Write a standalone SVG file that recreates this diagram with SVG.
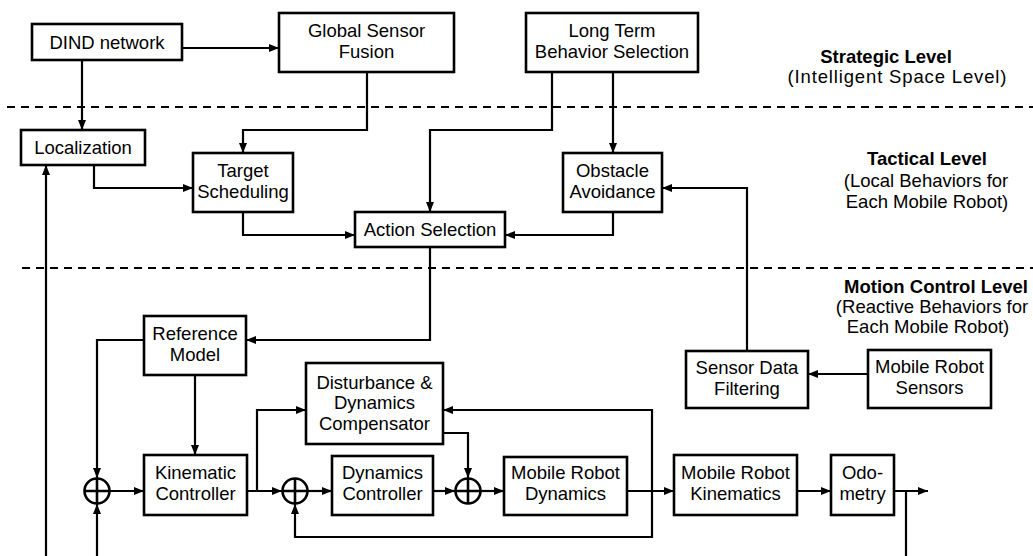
<svg xmlns="http://www.w3.org/2000/svg" width="1033" height="556" viewBox="0 0 1033 556">
  <style>
    .box { fill: #fff; stroke: #000; stroke-width: 2.6; }
    .wire { fill: none; stroke: #000; stroke-width: 2.2; }
    .sep { fill: none; stroke: #000; stroke-width: 2; stroke-dasharray: 8 6; }
    .sum { fill: none; stroke: #000; stroke-width: 2.6; }
    text { font-family: "Liberation Sans", Arial, sans-serif; font-size: 18.5px; fill: #000; text-anchor: middle; }
    .lvl { font-weight: bold; }
  </style>
  <defs>
    <marker id="arr" markerUnits="userSpaceOnUse" markerWidth="10" markerHeight="8" refX="10" refY="4" orient="auto">
      <path d="M0,0 L10,4 L0,8 z" fill="#000"/>
    </marker>
  </defs>
  <rect width="1033" height="556" fill="#fff"/>

  <!-- level separators -->
  <g id="separators">
    <line class="sep" x1="7" y1="107" x2="1033" y2="107"/>
    <line class="sep" x1="22" y1="268" x2="1033" y2="268"/>
  </g>

  <!-- level captions -->
  <g id="level-labels">
    <text class="lvl" x="886" y="63">Strategic Level</text>
    <text x="897" y="83" textLength="219">(Intelligent Space Level)</text>
    <text class="lvl" x="927" y="165">Tactical Level</text>
    <text x="926" y="187">(Local Behaviors for</text>
    <text x="927" y="208">Each Mobile Robot)</text>
    <text class="lvl" x="936" y="293">Motion Control Level</text>
    <text x="932" y="313">(Reactive Behaviors for</text>
    <text x="928" y="333">Each Mobile Robot)</text>
  </g>

  <!-- connectors -->
  <g id="connectors">
    <path class="wire" d="M182,48 H279" marker-end="url(#arr)"/>
    <path class="wire" d="M82,60 V130" marker-end="url(#arr)"/>
    <path class="wire" d="M367,72 V130 H243 V153" marker-end="url(#arr)"/>
    <path class="wire" d="M94,165 V188 H193" marker-end="url(#arr)"/>
    <path class="wire" d="M243,212 V235 H355" marker-end="url(#arr)"/>
    <path class="wire" d="M552,72 V130 H430 V212" marker-end="url(#arr)"/>
    <path class="wire" d="M613,72 V153" marker-end="url(#arr)"/>
    <path class="wire" d="M613,212 V235 H505" marker-end="url(#arr)"/>
    <path class="wire" d="M747,351 V188 H662" marker-end="url(#arr)"/>
    <path class="wire" d="M868,374 H808" marker-end="url(#arr)"/>
    <path class="wire" d="M430,247 V340 H246" marker-end="url(#arr)"/>
    <path class="wire" d="M144,340 H97 V478" marker-end="url(#arr)"/>
    <path class="wire" d="M195,375 V455" marker-end="url(#arr)"/>
    <path class="wire" d="M110,491 H144" marker-end="url(#arr)"/>
    <path class="wire" d="M97,556 V504" marker-end="url(#arr)"/>
    <path class="wire" d="M46,556 V165" marker-end="url(#arr)"/>
    <path class="wire" d="M247,491 H282" marker-end="url(#arr)"/>
    <path class="wire" d="M257,491 V410 H306" marker-end="url(#arr)"/>
    <path class="wire" d="M308,491 H332" marker-end="url(#arr)"/>
    <path class="wire" d="M433,491 H455" marker-end="url(#arr)"/>
    <path class="wire" d="M443,433 H468 V478" marker-end="url(#arr)"/>
    <path class="wire" d="M481,491 H504" marker-end="url(#arr)"/>
    <path class="wire" d="M627,491 H674" marker-end="url(#arr)"/>
    <path class="wire" d="M652,491 V410 H443" marker-end="url(#arr)"/>
    <path class="wire" d="M652,491 V537 H295 V504" marker-end="url(#arr)"/>
    <path class="wire" d="M797,491 H831" marker-end="url(#arr)"/>
    <path class="wire" d="M894,491 H928" marker-end="url(#arr)"/>
    <path class="wire" d="M906,491 V556"/>
  </g>

  <!-- strategic level -->
  <g id="dind-network">
    <rect class="box" x="32" y="24" width="150" height="36"/>
    <text x="107" y="48.5">DIND network</text>
  </g>
  <g id="global-sensor-fusion">
    <rect class="box" x="279" y="13" width="175" height="59"/>
    <text x="366.5" y="37">Global Sensor</text>
    <text x="366.5" y="58">Fusion</text>
  </g>
  <g id="long-term-behavior-selection">
    <rect class="box" x="526" y="13" width="172" height="59"/>
    <text x="612" y="37">Long Term</text>
    <text x="612" y="58">Behavior Selection</text>
  </g>

  <!-- tactical level -->
  <g id="localization">
    <rect class="box" x="21" y="130" width="124" height="35"/>
    <text x="83" y="154">Localization</text>
  </g>
  <g id="target-scheduling">
    <rect class="box" x="193" y="153" width="100" height="59"/>
    <text x="243" y="177">Target</text>
    <text x="243" y="198">Scheduling</text>
  </g>
  <g id="obstacle-avoidance">
    <rect class="box" x="563" y="153" width="99" height="59"/>
    <text x="612.5" y="177">Obstacle</text>
    <text x="612.5" y="198">Avoidance</text>
  </g>
  <g id="action-selection">
    <rect class="box" x="355" y="212" width="150" height="35"/>
    <text x="430" y="236">Action Selection</text>
  </g>

  <!-- motion control level -->
  <g id="reference-model">
    <rect class="box" x="144" y="316" width="102" height="59"/>
    <text x="195" y="340">Reference</text>
    <text x="195" y="361">Model</text>
  </g>
  <g id="sensor-data-filtering">
    <rect class="box" x="686" y="351" width="122" height="57"/>
    <text x="747" y="374">Sensor Data</text>
    <text x="747" y="395">Filtering</text>
  </g>
  <g id="mobile-robot-sensors">
    <rect class="box" x="868" y="350" width="123" height="58"/>
    <text x="929.5" y="373">Mobile Robot</text>
    <text x="929.5" y="394">Sensors</text>
  </g>
  <g id="disturbance-compensator">
    <rect class="box" x="306" y="363" width="137" height="81"/>
    <text x="374.5" y="389">Disturbance &amp;</text>
    <text x="374.5" y="409">Dynamics</text>
    <text x="374.5" y="430">Compensator</text>
  </g>
  <g id="kinematic-controller">
    <rect class="box" x="144" y="455" width="103" height="60"/>
    <text x="195.5" y="479">Kinematic</text>
    <text x="195.5" y="500">Controller</text>
  </g>
  <g id="dynamics-controller">
    <rect class="box" x="332" y="456" width="101" height="59"/>
    <text x="382.5" y="479">Dynamics</text>
    <text x="382.5" y="500">Controller</text>
  </g>
  <g id="mobile-robot-dynamics">
    <rect class="box" x="504" y="457" width="123" height="58"/>
    <text x="565.5" y="479">Mobile Robot</text>
    <text x="565.5" y="500">Dynamics</text>
  </g>
  <g id="mobile-robot-kinematics">
    <rect class="box" x="674" y="455" width="123" height="60"/>
    <text x="735.5" y="479">Mobile Robot</text>
    <text x="735.5" y="500">Kinematics</text>
  </g>
  <g id="odometry">
    <rect class="box" x="831" y="455" width="63" height="60"/>
    <text x="862.5" y="479">Odo-</text>
    <text x="862.5" y="500">metry</text>
  </g>

  <!-- summing junctions -->
  <g id="sum-kinematic">
    <circle class="sum" cx="97" cy="491" r="12.5"/>
    <path class="sum" d="M84.5,491 H109.5 M97,478.5 V503.5"/>
  </g>
  <g id="sum-dynamics">
    <circle class="sum" cx="295" cy="491" r="12.5"/>
    <path class="sum" d="M282.5,491 H307.5 M295,478.5 V503.5"/>
  </g>
  <g id="sum-compensation">
    <circle class="sum" cx="468" cy="491" r="12.5"/>
    <path class="sum" d="M455.5,491 H480.5 M468,478.5 V503.5"/>
  </g>
</svg>
